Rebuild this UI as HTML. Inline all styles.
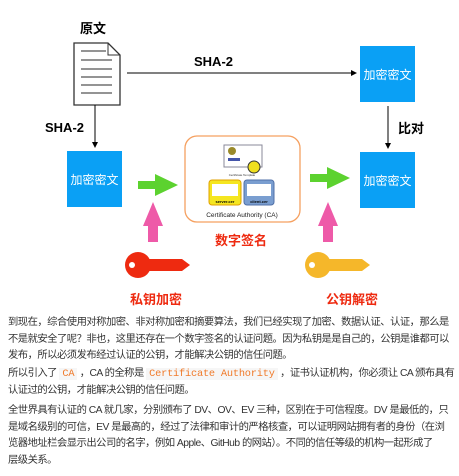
<!DOCTYPE html>
<html><head><meta charset="utf-8"><style>
body{margin:0;width:459px;height:476px;background:#fff;position:relative;overflow:hidden;font-family:"Liberation Sans","Noto Sans CJK SC",sans-serif;}
.a{position:absolute}
.box{position:absolute;background:#0aa0f5;color:#fff;font-size:12px;display:flex;align-items:center;justify-content:center;width:55px;height:56px}
p{position:absolute;left:8px;margin:0;font-size:10.3px;letter-spacing:-0.5px;line-height:16.6px;color:#333;white-space:nowrap}
code{font-family:"Liberation Mono",monospace;color:#f07a2a;background:#f6f6f6;padding:0 3px;letter-spacing:-0.2px}
</style></head><body>
<div class="a" style="left:80px;top:18px;font-size:13px;font-weight:bold">原文</div>
<svg class="a" style="left:0;top:0" width="459" height="300">
<defs><marker id="ar" markerWidth="6" markerHeight="6" refX="5" refY="3" orient="auto"><path d="M0,0L6,3L0,6z" fill="#000"/></marker></defs>
<path d="M74,43H108L120,55V105H74Z" fill="#fff" stroke="#333" stroke-width="1.3"/>
<path d="M108,43V55H120" fill="none" stroke="#333"/>
<g stroke="#555" stroke-width="1.3"><line x1="81" y1="51" x2="106" y2="51"/><line x1="81" y1="60" x2="112" y2="60"/><line x1="81" y1="69" x2="112" y2="69"/><line x1="81" y1="77" x2="112" y2="77"/><line x1="81" y1="85" x2="112" y2="85"/><line x1="81" y1="93" x2="112" y2="93"/></g>
<line x1="127" y1="73" x2="356" y2="73" stroke="#000" marker-end="url(#ar)"/>
<line x1="95" y1="105" x2="95" y2="147" stroke="#000" marker-end="url(#ar)"/>
<line x1="388" y1="106" x2="388" y2="148" stroke="#000" marker-end="url(#ar)"/>
<rect x="185" y="136" width="115" height="86" rx="12" fill="#fff" stroke="#f5a060" stroke-width="1.3"/>
<rect x="224" y="145" width="38" height="22" fill="#fff" stroke="#889"/><circle cx="232" cy="151" r="4" fill="#9a8a2a"/><rect x="228" y="158" width="12" height="3" fill="#4455aa"/>
<circle cx="254" cy="167" r="6" fill="#f0e020" stroke="#333"/>
<rect x="209" y="180" width="32" height="25" rx="3" fill="#f5e620" stroke="#e0a000"/><rect x="212" y="184" width="26" height="12" fill="#fff"/>
<rect x="244" y="180" width="30" height="25" rx="3" fill="#7a9ed0" stroke="#5070a8"/><rect x="247" y="184" width="24" height="12" fill="#fff"/>
<text x="242" y="176" font-size="3" text-anchor="middle" fill="#333">Certificate Template</text>
<text x="225" y="203" font-size="4" text-anchor="middle" font-weight="bold">server.cer</text>
<text x="259" y="203" font-size="4" text-anchor="middle" font-weight="bold">client.cer</text>
<text x="242" y="217" font-size="6.5" text-anchor="middle" font-family="Liberation Sans" fill="#222">Certificate Authority (CA)</text>
<path d="M138,181H155V174L178,185L155,196V189H138Z" fill="#5cd22f"/>
<path d="M310,174H327V167L350,178L327,189V182H310Z" fill="#5cd22f"/>
<path d="M148,242V226H143L153,202L163,226H158V242Z" fill="#ee5aa8"/>
<path d="M323,242V226H318L328,202L338,226H333V242Z" fill="#ee5aa8"/>
<g fill="#ee2a10"><circle cx="138" cy="265" r="13"/><path d="M145,259H182L190,265L182,271H145Z"/><circle cx="132" cy="265" r="3" fill="#fff"/></g>
<g fill="#f5b72a"><circle cx="318" cy="265" r="13"/><path d="M325,259H362L370,265L362,271H325Z"/><circle cx="312" cy="265" r="3" fill="#fff"/></g>
</svg>
<div class="a" style="left:194px;top:54px;font-size:13px;font-weight:bold">SHA-2</div>
<div class="a" style="left:45px;top:120px;font-size:13px;font-weight:bold">SHA-2</div>
<div class="a" style="left:398px;top:118px;font-size:13px;font-weight:bold">比对</div>
<div class="box" style="left:360px;top:46px">加密密文</div>
<div class="box" style="left:360px;top:152px">加密密文</div>
<div class="box" style="left:67px;top:151px">加密密文</div>
<div class="a" style="left:215px;top:230px;font-size:13px;font-weight:bold;color:#ee2a10">数字签名</div>
<div class="a" style="left:130px;top:289px;font-size:13px;font-weight:bold;color:#ee2a10">私钥加密</div>
<div class="a" style="left:326px;top:289px;font-size:13px;font-weight:bold;color:#ee2a10">公钥解密</div>
<p style="top:315px">到现在，综合使用对称加密、非对称加密和摘要算法，我们已经实现了加密、数据认证、认证，那么是<br>不是就安全了呢？非也，这里还存在一个数字签名的认证问题。因为私钥是是自己的，公钥是谁都可以<br>发布，所以必须发布经过认证的公钥，才能解决公钥的信任问题。</p>
<p style="top:366px">所以引入了 <code>CA</code> ，CA 的全称是 <code>Certificate Authority</code> ，证书认证机构，你必须让 CA 颁布具有<br>认证过的公钥，才能解决公钥的信任问题。</p>
<p style="top:403px">全世界具有认证的 CA 就几家，分别颁布了 DV、OV、EV 三种，区别在于可信程度。DV 是最低的，只<br>是域名级别的可信，EV 是最高的，经过了法律和审计的严格核查，可以证明网站拥有者的身份（在浏<br>览器地址栏会显示出公司的名字，例如 Apple、GitHub 的网站）。不同的信任等级的机构一起形成了<br>层级关系。</p>
</body></html>
